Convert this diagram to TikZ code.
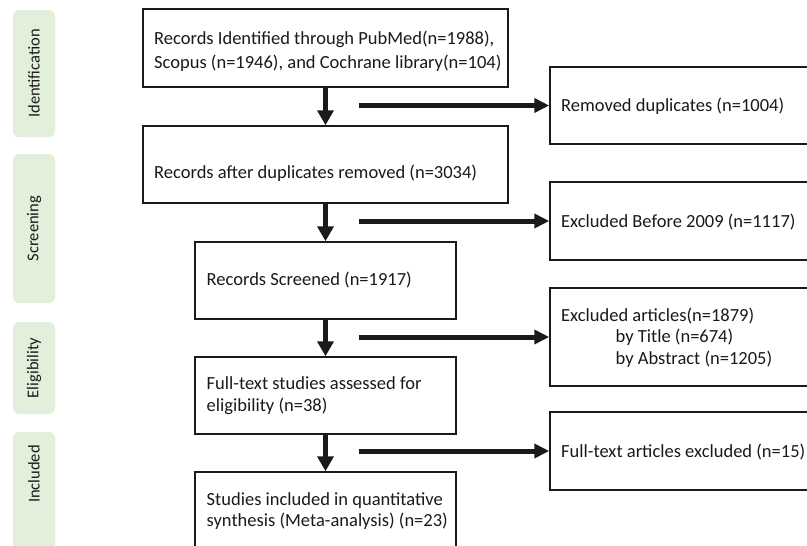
\documentclass[tikz,border=0pt]{standalone}
\usepackage{fontspec}
\setmainfont{Carlito}
\usetikzlibrary{arrows.meta,calc}
\definecolor{phase}{HTML}{E2EFDA}
\definecolor{ink}{HTML}{1A1A1A}
\begin{document}
\begin{tikzpicture}[x=1pt,y=-1pt,
  box/.style={draw=ink,line width=1.5pt,inner sep=0pt},
  txt/.style={anchor=west,inner sep=0pt,align=left,text=ink,font=\fontsize{18.5}{21.7}\selectfont},
  phasebox/.style={fill=phase,rounded corners=6pt,inner sep=0pt,minimum width=42pt},
  phasetxt/.style={rotate=90,text=ink,font=\fontsize{16.5}{18}\selectfont},
  varrow/.style={line width=5pt,ink,-{Triangle[width=16pt,length=15pt]}},
  harrow/.style={line width=5pt,ink,-{Triangle[width=14pt,length=15pt]}}]
\clip (0,0) rectangle (807,546);
\fill[white] (0,0) rectangle (807,546);
% phase labels
\node[phasebox,minimum height=127pt] (p1) at (34,73.5) {};
\node[phasetxt] (p1t) at (p1.center) {Identification};
\node[phasebox,minimum height=149pt] (p2) at (34,228.5) {};
\node[phasetxt] (p2t) at (p2.center) {Screening};
\node[phasebox,minimum height=92pt] (p3) at (34,368) {};
\node[phasetxt] (p3t) at (p3.center) {Eligibility};
\node[phasebox,minimum height=128pt] (p4) at (34,496) {};
\node[phasetxt] (p4t) at (34,474) {Included};
% main boxes
\node[box,minimum width=365pt,minimum height=78pt] (b1) at (325.5,48) {};
\node[txt] (b1t) at (154,51) {Records Identified through PubMed(n=1988),\\[2pt]Scopus (n=1946), and Cochrane library(n=104)};
\node[box,minimum width=365pt,minimum height=77pt] (b2) at (325.5,164.5) {};
\node[txt] (b2t) at (154,173) {Records after duplicates removed (n=3034)};
\node[box,minimum width=261pt,minimum height=77pt] (b3) at (325.5,280.5) {};
\node[txt] (b3t) at (206.5,280) {Records Screened (n=1917)};
\node[box,minimum width=261pt,minimum height=77pt] (b4) at (325.5,395.5) {};
\node[txt] (b4t) at (206.5,396) {Full-text studies assessed for\\eligibility (n=38)};
\node[box,minimum width=261pt,minimum height=100pt] (b5) at (325.5,522) {};
\node[txt] (b5t) at (206.5,511) {Studies included in quantitative\\synthesis (Meta-analysis) (n=23)};
% right boxes
\node[box,minimum width=280pt,minimum height=77pt] (r1) at (690,105.5) {};
\node[txt] (r1t) at (561,106.5) {Removed duplicates (n=1004)};
\node[box,minimum width=280pt,minimum height=78pt] (r2) at (690,221) {};
\node[txt] (r2t) at (561,222.5) {Excluded Before 2009 (n=1117)};
\node[box,minimum width=280pt,minimum height=98pt] (r3) at (690,337) {};
\node[txt] (r3t) at (561,337.5) {Excluded articles(n=1879)\\\hspace*{54.5pt}by Title (n=674)\\\hspace*{54.5pt}by Abstract (n=1205)};
\node[box,minimum width=280pt,minimum height=78pt] (r4) at (690,451) {};
\node[txt] (r4t) at (561,452.5) {Full-text articles excluded (n=15)};
% vertical arrows
\draw[varrow] (b1.south) -- (b2.north);
\draw[varrow] (b2.south -| b3.north) -- (b3.north);
\draw[varrow] (b3.south) -- (b4.north);
\draw[varrow] (b4.south) -- (b5.north);
% horizontal arrows
\coordinate (h1) at (359,105.5);
\coordinate (h2) at (359,221);
\coordinate (h3) at (359,337);
\coordinate (h4) at (359,451);
\draw[harrow] (h1) -- (r1.west);
\draw[harrow] (h2) -- (r2.west);
\draw[harrow] (h3) -- (r3.west);
\draw[harrow] (h4) -- (r4.west);
\end{tikzpicture}
\end{document}
